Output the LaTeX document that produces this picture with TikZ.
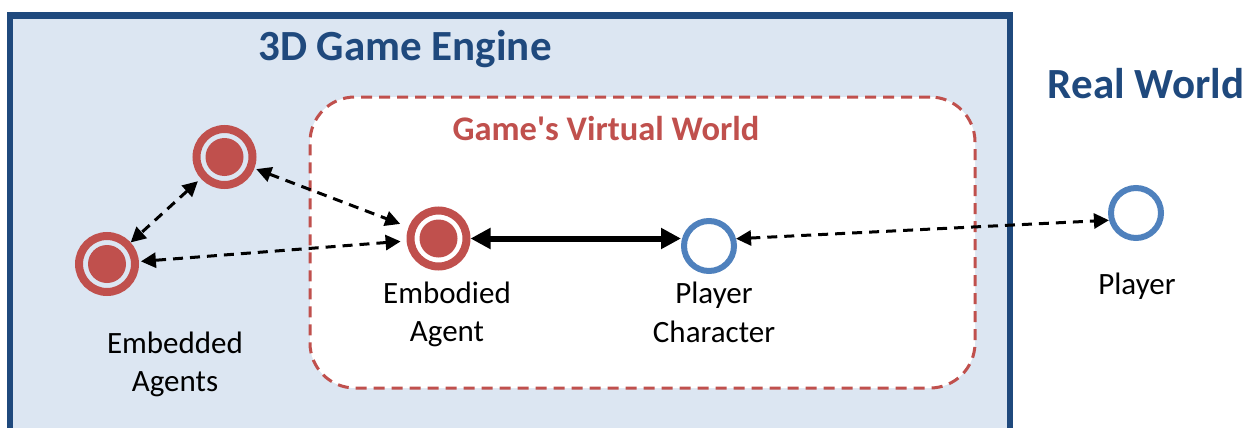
\documentclass[tikz,border=0pt]{standalone}
\usepackage{fontspec}
\setmainfont{Carlito}[Ligatures=TeXOff]
\usetikzlibrary{arrows.meta}
\definecolor{cred}{HTML}{C0504D}
\definecolor{cblue}{HTML}{4F81BD}
\definecolor{cdark}{HTML}{1F497D}
\definecolor{cbg}{HTML}{DCE6F2}
\begin{document}
\begin{tikzpicture}[x=1pt,y=-1pt,
  agent/.style={circle, draw=cred, line width=8pt, minimum size=56pt, inner sep=0pt,
    path picture={\fill[cred] (path picture bounding box.center) circle (19pt);}},
  person/.style={circle, draw=cblue, line width=6pt, minimum size=50pt, inner sep=0pt},
  lbl/.style={font=\fontsize{31}{38.5}\selectfont, align=center, inner sep=0pt, anchor=base},
  head/.style={font=\fontsize{43}{50}\selectfont\bfseries, text=cdark, inner sep=0pt, anchor=base},
  subhead/.style={font=\fontsize{34.5}{40}\selectfont\bfseries, text=cred, inner sep=0pt, anchor=base},
  vworld/.style={draw=cred, fill=white, line width=3pt, dash pattern=on 11pt off 7pt,
    rounded corners=45pt, inner sep=0pt},
  link/.style={line width=3pt, dash pattern=on 10pt off 7pt, >={Triangle[length=15pt,width=15pt]}, <->},
  strong/.style={line width=6pt, >={Triangle[length=20pt,width=20pt]}, <->}
]
\useasboundingbox (0,0) rectangle (1255,428);
\clip (0,0) rectangle (1255,428);
% game engine box
\draw[cdark, line width=6.5pt, fill=cbg] (10,15.7) rectangle (1010,470);
\node[head] (t1) at (405,60) {3D Game Engine};
\node[head] (t2) at (1146,99) {Real World};
% virtual world
\node[vworld, minimum width=665pt, minimum height=291pt] (vw) at (642.5,242.5) {};
\node[subhead] (t3) at (606,140) {Game's Virtual World};
% nodes
\node[agent] (a1) at (224.5,157) {};
\node[agent] (a2) at (107,264) {};
\node[agent] (emb) at (438.5,238.5) {};
\node[person] (pc) at (709,246) {};
\node[person] (pl) at (1136,213) {};
% labels
\node[lbl] (l1) at (175,391.5) {Embedded\\Agents};
\node[lbl] (l2) at (447,341.7) {Embodied\\Agent};
\node[lbl] (l3) at (714,342) {Player\\Character};
\node[lbl] (l4) at (1137,294) {Player};
% connectors
\draw[link, shorten <=2pt, shorten >=9pt] (a1) -- (emb);
\draw[link, shorten <=4pt] (a1) -- (a2);
\draw[link, shorten <=6pt, shorten >=2pt] (emb) -- (a2);
\draw[strong] (emb.east) -- (emb.east -| pc.west);
\draw[link] (pc.15) -- (pl.195);
\end{tikzpicture}
\end{document}
